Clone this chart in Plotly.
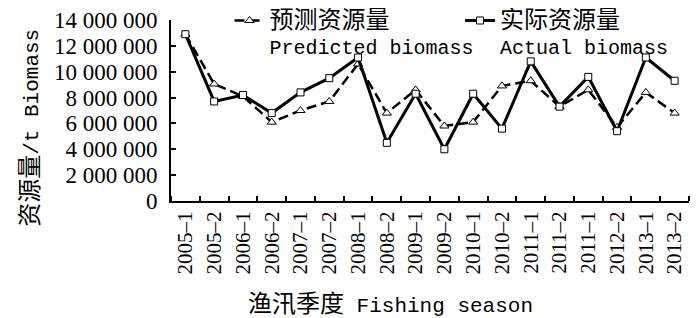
import plotly.graph_objects as go

seasons = ["2005–1", "2005–2", "2006–1", "2006–2", "2007–1", "2007–2", "2008–1", "2008–2",
           "2009–1", "2009–2", "2010–1", "2010–2", "2011–1", "2011–2", "2011–1", "2012–2",
           "2013–1", "2013–2"]
predicted = [12.9e6, 9.05e6, 8.1e6, 6.1e6, 7.0e6, 7.7e6, 10.6e6, 6.8e6, 8.6e6, 5.8e6,
             6.1e6, 8.9e6, 9.3e6, 7.3e6, 8.6e6, 5.7e6, 8.4e6, 6.8e6]
actual = [12.9e6, 7.7e6, 8.2e6, 6.8e6, 8.4e6, 9.5e6, 11.1e6, 4.5e6, 8.3e6, 4.0e6,
          8.3e6, 5.6e6, 10.8e6, 7.3e6, 9.6e6, 5.4e6, 11.1e6, 9.3e6]
yticks = [0, 2e6, 4e6, 6e6, 8e6, 10e6, 12e6, 14e6]

idx = list(range(len(seasons)))

MONO = "Liberation Mono, Noto Sans CJK SC"
SERIF = "Liberation Serif, Times New Roman, serif"

fig = go.Figure()
fig.add_trace(go.Scatter(
    x=idx, y=predicted, mode="lines+markers",
    name='<span style="font-size:24px">预测资源量</span><br>Predicted biomass',
    line=dict(color="black", width=2.5, dash="10px,5px"),
    marker=dict(symbol="triangle-up", size=8, color="white", line=dict(color="black", width=1)),
    legend="legend",
))
fig.add_trace(go.Scatter(
    x=idx, y=actual, mode="lines+markers",
    name='<span style="font-size:24px">实际资源量</span><br>Actual biomass',
    line=dict(color="black", width=3),
    marker=dict(symbol="square", size=7, color="white", line=dict(color="black", width=1)),
    legend="legend2",
))

fig.update_layout(
    width=700, height=318,
    margin=dict(l=163, r=19, t=12, b=125, autoexpand=False),
    paper_bgcolor="white", plot_bgcolor="white",
    separators=". ",
    showlegend=True,
    legend=dict(x=0.113, y=1.105, xanchor="left", yanchor="top",
                bgcolor="rgba(0,0,0,0)",
                font=dict(family=MONO, size=20, color="black"), valign="top"),
    legend2=dict(x=0.558, y=1.105, xanchor="left", yanchor="top",
                 bgcolor="rgba(0,0,0,0)",
                 font=dict(family=MONO, size=20, color="black"), valign="top"),
    xaxis=dict(
        range=[-0.5, len(seasons) - 0.5], automargin=False,
        tickmode="array", tickvals=idx, ticktext=seasons, tickangle=-90,
        ticks="", showline=True, linecolor="black", linewidth=2, showgrid=False, zeroline=False,
        tickfont=dict(family=SERIF, size=21, color="black"), ticklabeloverflow="allow",
        minor=dict(tickmode="linear", tick0=0.5, dtick=1, ticks="inside", ticklen=5,
                   tickcolor="black", tickwidth=1.5, showgrid=False),
    ),
    yaxis=dict(
        range=[0, 14e6], automargin=False, tickmode="array", tickvals=yticks, tickformat=",d",
        ticks="inside", ticklen=5, tickcolor="black", tickwidth=1.5, ticklabeloverflow="allow",
        ticklabelstandoff=7,
        showline=True, linecolor="black", linewidth=2, showgrid=False, zeroline=False,
        tickfont=dict(family=SERIF, size=23, color="black"),
    ),
    annotations=[
        dict(text='<span style="font-size:24px">资源量</span>/t Biomass', textangle=-90,
             x=-0.270, y=0.405, xref="paper", yref="paper", xanchor="center", yanchor="middle",
             showarrow=False, font=dict(family=MONO, size=21, color="black")),
        dict(text='<span style="font-size:24px">渔汛季度</span> Fishing season',
             x=0.423, y=-0.574, xref="paper", yref="paper", xanchor="center", yanchor="middle",
             showarrow=False, font=dict(family=MONO, size=21, color="black")),
    ],
)

fig.write_html("out.html")
